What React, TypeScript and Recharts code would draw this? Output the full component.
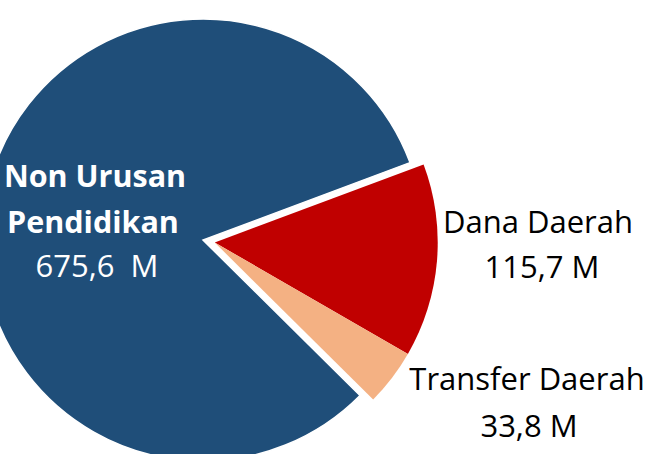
import React from "react";
import { PieChart, Pie, Cell } from "recharts";

const categories = ["Dana Daerah", "Transfer Daerah", "Non Urusan Pendidikan"];
const values = [115.7, 33.8, 675.6];
const valueLabels = ["115,7 M", "33,8 M", "675,6  M"];
const colors = ["#C00000", "#F4B183", "#1F4E79"];
const exploded = [true, true, false];

const W = 652;
const H = 454;
const CX = 203;
const CY = 240;
const R = 221;
const START = 20.5;
const EXPLODE = 12;

const data = categories.map((name, i) => ({ name, value: values[i], label: valueLabels[i] }));

const total = values.reduce((a, b) => a + b, 0);
const groupSum = values.reduce((a, v, i) => (exploded[i] ? a + v : a), 0);
const midAngle = START - ((groupSum / total) * 360) / 2;
const dx = EXPLODE * Math.cos((midAngle * Math.PI) / 180);
const dy = -EXPLODE * Math.sin((midAngle * Math.PI) / 180);

const FONT = "'Open Sans', sans-serif";

const labelPos = [
  { x1: 538, y1: 233, x2: 542, y2: 278 },
  { x1: 527, y1: 390, x2: 529, y2: 437 },
];

const renderLabel = (props: any) => {
  const i = props.index;
  if (i === 2) {
    const words = categories[2].split(" ");
    return (
      <g key={"lbl" + i} fontFamily={FONT}>
        <text x={95} y={187} textAnchor="middle" fill="#fff" fontSize={30.5} fontWeight="bold">
          {words.slice(0, 2).join(" ")}
        </text>
        <text x={93} y={233} textAnchor="middle" fill="#fff" fontSize={30.5} fontWeight="bold">
          {words.slice(2).join(" ")}
        </text>
        <text x={97} y={277} textAnchor="middle" fill="#fff" fontSize={31} style={{ whiteSpace: "pre" }}>
          {valueLabels[2]}
        </text>
      </g>
    );
  }
  const p = labelPos[i];
  return (
    <g key={"lbl" + i} fontFamily={FONT}>
      <text x={p.x1} y={p.y1} textAnchor="middle" fill="#000" fontSize={31}>
        {categories[i]}
      </text>
      <text x={p.x2} y={p.y2} textAnchor="middle" fill="#000" fontSize={31}>
        {valueLabels[i]}
      </text>
    </g>
  );
};

export default function App() {
  return (
    <div style={{ position: "absolute", left: 0, top: 0, width: W, height: H, background: "#fff" }}>
      <PieChart width={W} height={H} margin={{ top: 0, right: 0, bottom: 0, left: 0 }}>
        <Pie
          data={data}
          dataKey="value"
          nameKey="name"
          cx={CX}
          cy={CY}
          outerRadius={R}
          startAngle={START}
          endAngle={START - 360}
          isAnimationActive={false}
          stroke="#fff"
          strokeWidth={1.5}
        >
          {data.map((d, i) => (
            <Cell key={d.name} fill={exploded[i] ? "none" : colors[i]} stroke={exploded[i] ? "none" : "#fff"} />
          ))}
        </Pie>
        <Pie
          data={data}
          dataKey="value"
          nameKey="name"
          cx={CX + dx}
          cy={CY + dy}
          outerRadius={R + 2}
          startAngle={START}
          endAngle={START - 360}
          isAnimationActive={false}
          stroke="none"
          label={renderLabel}
          labelLine={false}
        >
          {data.map((d, i) => (
            <Cell key={d.name} fill={exploded[i] ? colors[i] : "none"} stroke="none" />
          ))}
        </Pie>
      </PieChart>
    </div>
  );
}
